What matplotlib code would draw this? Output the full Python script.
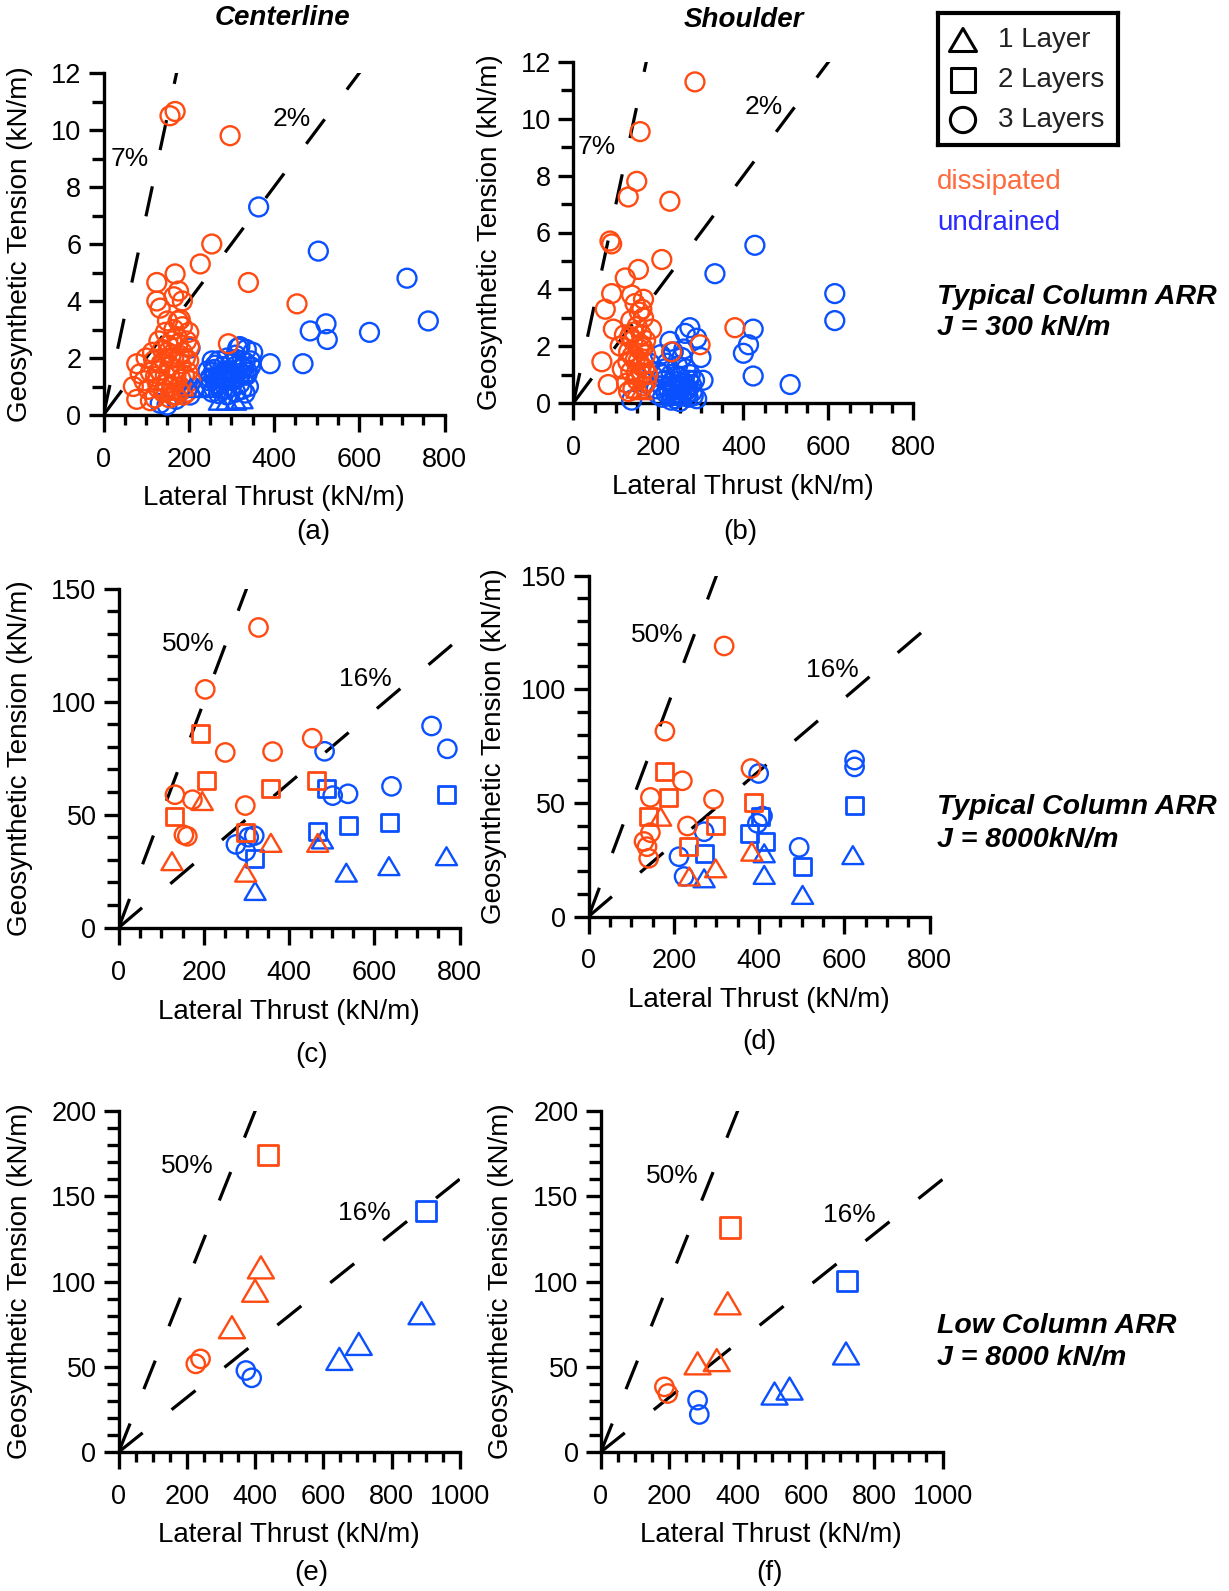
import matplotlib
matplotlib.use('Agg')
import matplotlib.pyplot as plt
from matplotlib.ticker import MultipleLocator
from matplotlib.path import Path

plt.rcParams['font.family'] = ['Liberation Sans', 'DejaVu Sans']

ORANGE = '#FF4A12'
BLUE = '#0A50FF'

# ---------------- data ----------------
# Panel (a): centerline, typical column ARR, J = 300 kN/m
a_diss_circ_x = [168, 156, 297, 254, 227, 340, 454, 125, 168, 125, 133, 176, 165, 180, 185, 293, 78, 70, 78, 86,
                 105, 110, 115, 120, 125, 130, 135, 140, 145, 145, 150, 155, 155, 160, 160, 165, 165, 170, 170, 175,
                 180, 180, 185, 185, 190, 195, 195, 200, 205, 200, 175, 150, 100, 95, 110,
                 118, 128, 138, 148, 158, 168, 178, 188, 198, 122, 142, 162, 182, 202, 132, 152, 172, 192]
a_diss_circ_y = [10.65, 10.5, 9.8, 6.0, 5.3, 4.65, 3.9, 4.65, 4.95, 4.0, 3.75, 4.35, 4.15, 3.35, 4.0, 2.5, 1.8, 1.0, 0.55, 1.45,
                 0.9, 1.5, 2.2, 0.6, 1.2, 2.6, 1.8, 0.8, 2.9, 1.4, 2.2, 0.6, 1.7, 2.6, 1.0, 3.0, 2.0, 1.4, 0.7, 2.5,
                 1.8, 1.0, 3.1, 2.2, 1.4, 2.6, 0.8, 1.9, 1.2, 2.9, 3.3, 3.3, 2.0, 1.2, 0.5,
                 1.9, 0.95, 2.3, 1.1, 2.0, 1.6, 2.1, 0.7, 1.5, 1.35, 1.9, 0.7, 1.25, 2.4, 1.55, 2.45, 2.75, 2.0]
a_diss_tri_x = [172, 160, 185]
a_diss_tri_y = [0.9, 0.85, 1.0]
a_und_circ_x = [364, 504, 712, 762, 485, 522, 525, 624, 468, 391, 203, 332, 336, 133, 149, 203, 170, 350, 320, 345,
                240, 250, 255, 260, 265, 270, 275, 280, 280, 285, 290, 295, 300, 300, 305, 310, 310, 315, 320, 325,
                330, 335, 340, 345, 290, 270, 255, 245, 315, 325,
                248, 258, 268, 278, 288, 298, 308, 318, 328, 338, 262, 282, 302, 322, 272, 292, 312, 332]
a_und_circ_y = [7.3, 5.75, 4.8, 3.3, 2.95, 3.2, 2.65, 2.9, 1.8, 1.8, 2.35, 0.77, 1.4, 0.41, 0.35, 0.7, 0.55, 2.2, 2.4, 1.9,
                1.0, 1.3, 0.8, 1.6, 1.1, 1.9, 1.4, 0.9, 1.7, 1.2, 2.0, 1.5, 1.0, 1.8, 1.3, 2.1, 0.8, 1.6, 1.1, 1.9,
                1.4, 2.3, 1.0, 1.7, 0.7, 0.75, 1.9, 1.55, 2.35, 0.9,
                1.2, 1.5, 1.3, 1.25, 1.55, 1.35, 1.7, 1.35, 1.65, 1.5, 1.75, 1.45, 1.2, 1.45, 1.05, 1.25, 1.95, 1.85]
a_und_tri_x = [205, 220, 235, 250, 272, 290, 310, 325]
a_und_tri_y = [0.95, 0.95, 0.95, 0.95, 0.5, 0.5, 0.5, 0.55]

# Panel (b): shoulder, typical column ARR, J = 300 kN/m
b_diss_circ_x = [286, 157, 149, 129, 227, 86, 90, 208, 153, 122, 90, 75, 137, 161, 165, 94, 380, 184, 298, 231, 67, 82, 161, 110,
                 115, 120, 125, 130, 135, 135, 140, 140, 145, 150, 150, 155, 160, 160, 165, 165, 170, 170, 175, 155, 145, 130,
                 128, 138, 148, 158, 168, 143, 153, 163, 133, 172]
b_diss_circ_y = [11.3, 9.55, 7.8, 7.25, 7.1, 5.7, 5.6, 5.05, 4.7, 4.4, 3.85, 3.3, 3.8, 3.3, 3.65, 2.6, 2.65, 2.6, 2.05, 1.8, 1.45, 0.65, 1.0, 2.0,
                 1.2, 2.4, 0.7, 1.8, 2.9, 1.1, 0.5, 2.2, 1.5, 2.7, 0.8, 1.9, 1.3, 2.4, 0.6, 3.0, 1.7, 2.2, 1.0, 3.2, 3.5, 0.4,
                 1.45, 1.65, 1.05, 2.05, 1.2, 2.5, 1.5, 1.95, 2.35, 0.75]
b_diss_tri_x = [150, 160, 145, 158]
b_diss_tri_y = [0.5, 0.45, 1.0, 1.6]
b_und_circ_x = [427, 333, 615, 615, 423, 412, 400, 423, 510, 274, 263, 137, 227, 290, 300, 305, 170, 180,
                195, 200, 205, 210, 215, 220, 225, 230, 235, 240, 240, 245, 250, 255, 255, 260, 265, 270, 270, 275,
                280, 285, 290, 230, 250, 215, 200, 260,
                208, 218, 228, 238, 248, 258, 268, 278, 212, 222, 232, 242, 252, 262, 272, 282, 235, 245, 255, 265]
b_und_circ_y = [5.55, 4.55, 3.85, 2.9, 2.6, 2.05, 1.75, 0.95, 0.65, 2.65, 2.45, 0.1, 2.17, 2.28, 1.6, 0.8, 0.7, 1.4,
                0.5, 1.1, 1.7, 0.2, 0.8, 1.4, 0.4, 1.0, 1.8, 0.15, 0.6, 1.3, 0.9, 0.3, 1.6, 0.7, 1.2, 0.2, 0.5, 1.0,
                0.4, 0.8, 0.15, 0.1, 0.05, 1.2, 0.3, 1.9,
                0.6, 0.35, 0.7, 0.45, 0.25, 0.55, 0.35, 0.65, 1.0, 0.55, 0.3, 0.95, 0.5, 0.4, 0.8, 0.25, 0.55, 0.75, 0.6, 0.45]
b_und_tri_x = [240, 255]
b_und_tri_y = [0.25, 0.25]

# Panel (c): centerline, typical column ARR, J = 8000 kN/m
c_diss_circ_x = [328, 203, 250, 361, 454, 132, 173, 297, 153, 161]
c_diss_circ_y = [132.8, 105.4, 77.5, 77.9, 83.8, 58.8, 56.6, 54.0, 41.0, 40.4]
c_diss_sq_x = [192, 206, 357, 463, 132, 298]
c_diss_sq_y = [86, 65, 61.7, 65, 49.2, 41.9]
c_diss_tri_x = [196, 125, 298, 357, 467]
c_diss_tri_y = [56, 29.4, 24.3, 37.5, 37.5]
c_und_circ_x = [483, 734, 771, 502, 538, 640, 275, 298, 318, 305]
c_und_circ_y = [78, 89.2, 79.1, 58.4, 59.2, 62.5, 36.8, 33.8, 40.7, 40.0]
c_und_sq_x = [487, 769, 538, 636, 467, 318]
c_und_sq_y = [61.7, 58.8, 45.1, 46.3, 42.6, 30.4]
c_und_tri_x = [478, 534, 634, 769, 320]
c_und_tri_y = [39, 24.3, 27.2, 31.6, 16.2]

# Panel (d): shoulder, typical column ARR, J = 8000 kN/m
d_diss_circ_x = [318, 179, 220, 145, 293, 381, 232, 145, 130, 137, 141]
d_diss_circ_y = [119, 81.5, 59.7, 52.4, 51.5, 65.1, 39.8, 36.9, 33, 30.7, 25.6]
d_diss_sq_x = [177, 188, 140, 298, 387, 234]
d_diss_sq_y = [63.6, 52.2, 44.2, 40.2, 50, 31]
d_diss_tri_x = [169, 383, 298, 236]
d_diss_tri_y = [43.9, 28.5, 21.2, 17.6]
d_und_circ_x = [624, 624, 399, 408, 396, 494, 271, 212, 224]
d_und_circ_y = [68.8, 65.8, 62.9, 44.2, 41, 30.4, 37.3, 26.3, 17.6]
d_und_sq_x = [624, 404, 377, 416, 271, 501]
d_und_sq_y = [49, 44.2, 36.6, 32.9, 27.8, 21.9]
d_und_tri_x = [412, 620, 412, 502, 271]
d_und_tri_y = [27.8, 27, 18.3, 9.5, 16.8]

# Panel (e): centerline, low column ARR, J = 8000 kN/m
e_diss_circ_x = [226, 240]
e_diss_circ_y = [51.7, 54.6]
e_diss_sq_x = [437]
e_diss_sq_y = [174]
e_diss_tri_x = [417, 400, 332]
e_diss_tri_y = [108.3, 94.6, 73.2]
e_und_circ_x = [373, 390]
e_und_circ_y = [47.8, 43.5]
e_und_sq_x = [900]
e_und_sq_y = [141.5]
e_und_tri_x = [888, 704, 647]
e_und_tri_y = [81.4, 63.4, 54.6]

# Panel (f): shoulder, low column ARR, J = 8000 kN/m
f_diss_circ_x = [186, 196]
f_diss_circ_y = [38.2, 34.3]
f_diss_sq_x = [378]
f_diss_sq_y = [131.7]
f_diss_tri_x = [371, 283, 339]
f_diss_tri_y = [87.2, 52, 53.9]
f_und_circ_x = [283, 288]
f_und_circ_y = [30.4, 22]
f_und_sq_x = [720]
f_und_sq_y = [100.4]
f_und_tri_x = [717, 508, 552]
f_und_tri_y = [57.8, 34.3, 37.2]

ratio_top = [0.07, 0.07, 0.5, 0.5, 0.5, 0.5]
ratio_low = [0.02, 0.02, 0.16, 0.16, 0.16, 0.16]
ratio_top_lbl = ['7%', '7%', '50%', '50%', '50%', '50%']
ratio_low_lbl = ['2%', '2%', '16%', '16%', '16%', '16%']
ratio_top_pos = [(61, 9.0), (55, 9.0), (163, 125.4), (161, 124), (201, 167.8), (208, 161.7)]
ratio_low_pos = [(442, 10.4), (447, 10.4), (579, 109.8), (573, 108.6), (719, 139.9), (728, 138.8)]
panel_letters = ['(a)', '(b)', '(c)', '(d)', '(e)', '(f)']

# ---------------- figure ----------------
W, H = 1229, 1591
fig = plt.figure(figsize=(W / 100, H / 100), dpi=100)

TRI = Path([(-1, -0.85), (1, -0.85), (0, 0.85), (-1, -0.85)],
           [Path.MOVETO, Path.LINETO, Path.LINETO, Path.CLOSEPOLY])

# pixel boxes: x at 0, x at max, y at 0, y at max
boxes = [
    (103.5, 444.5, 415, 73),
    (573.4, 913.4, 403, 62),
    (118.7, 459.7, 927.6, 588.6),
    (588.6, 929.6, 916.5, 575.5),
    (118.7, 459.7, 1452, 1111),
    (600.8, 942.8, 1452, 1111),
]
lims = [(800, 12, 200, 50, 2, 1), (800, 12, 200, 50, 2, 1),
        (800, 150, 200, 50, 50, 10), (800, 150, 200, 50, 50, 10),
        (1000, 200, 200, 50, 50, 10), (1000, 200, 200, 50, 50, 10)]
xlabel_pos = [(274, 498), (743, 487), (289, 1012), (759, 1000), (289, 1535), (771, 1535)]
letter_pos = [(313, 532), (740, 532), (312, 1055), (759, 1042), (311, 1573), (769, 1573)]
ylabel_x = [20, 490, 20, 494, 20, 501]

panel_data = [
    dict(circ=[(a_und_circ_x, a_und_circ_y, BLUE), (a_diss_circ_x, a_diss_circ_y, ORANGE)],
         sq=[], tri=[(a_und_tri_x, a_und_tri_y, BLUE), (a_diss_tri_x, a_diss_tri_y, ORANGE)]),
    dict(circ=[(b_und_circ_x, b_und_circ_y, BLUE), (b_diss_circ_x, b_diss_circ_y, ORANGE)],
         sq=[], tri=[(b_und_tri_x, b_und_tri_y, BLUE), (b_diss_tri_x, b_diss_tri_y, ORANGE)]),
    dict(circ=[(c_und_circ_x, c_und_circ_y, BLUE), (c_diss_circ_x, c_diss_circ_y, ORANGE)],
         sq=[(c_und_sq_x, c_und_sq_y, BLUE), (c_diss_sq_x, c_diss_sq_y, ORANGE)],
         tri=[(c_und_tri_x, c_und_tri_y, BLUE), (c_diss_tri_x, c_diss_tri_y, ORANGE)]),
    dict(circ=[(d_und_circ_x, d_und_circ_y, BLUE), (d_diss_circ_x, d_diss_circ_y, ORANGE)],
         sq=[(d_und_sq_x, d_und_sq_y, BLUE), (d_diss_sq_x, d_diss_sq_y, ORANGE)],
         tri=[(d_und_tri_x, d_und_tri_y, BLUE), (d_diss_tri_x, d_diss_tri_y, ORANGE)]),
    dict(circ=[(e_und_circ_x, e_und_circ_y, BLUE), (e_diss_circ_x, e_diss_circ_y, ORANGE)],
         sq=[(e_und_sq_x, e_und_sq_y, BLUE), (e_diss_sq_x, e_diss_sq_y, ORANGE)],
         tri=[(e_und_tri_x, e_und_tri_y, BLUE), (e_diss_tri_x, e_diss_tri_y, ORANGE)]),
    dict(circ=[(f_und_circ_x, f_und_circ_y, BLUE), (f_diss_circ_x, f_diss_circ_y, ORANGE)],
         sq=[(f_und_sq_x, f_und_sq_y, BLUE), (f_diss_sq_x, f_diss_sq_y, ORANGE)],
         tri=[(f_und_tri_x, f_und_tri_y, BLUE), (f_diss_tri_x, f_diss_tri_y, ORANGE)]),
]

sizes = [dict(circ=185, sq=150, tri=230)] * 2 + [dict(circ=175, sq=150, tri=230)] * 2 + \
        [dict(circ=175, sq=210, tri=350)] * 2

LW_AX = 2.4
for i in range(6):
    x0, x1, y0, y1 = boxes[i]
    ax = fig.add_axes([x0 / W, 1 - y0 / H, (x1 - x0) / W, (y0 - y1) / H])
    xmax, ymax, xmaj, xmin_, ymaj, ymin_ = lims[i]
    ax.set_xlim(0, xmax)
    ax.set_ylim(0, ymax)
    for s in ['top', 'right']:
        ax.spines[s].set_visible(False)
    for s in ['left', 'bottom']:
        ax.spines[s].set_linewidth(LW_AX)
    ax.xaxis.set_major_locator(MultipleLocator(xmaj))
    ax.xaxis.set_minor_locator(MultipleLocator(xmin_))
    ax.yaxis.set_major_locator(MultipleLocator(ymaj))
    ax.yaxis.set_minor_locator(MultipleLocator(ymin_))
    ax.tick_params(axis='x', which='major', length=12, width=LW_AX, labelsize=19.5, pad=11)
    ax.tick_params(axis='x', which='minor', length=7, width=LW_AX)
    ax.tick_params(axis='y', which='major', length=11, width=LW_AX, labelsize=19.5, pad=5)
    ax.tick_params(axis='y', which='minor', length=9, width=LW_AX)

    # ratio lines
    for sl in (ratio_top[i], ratio_low[i]):
        ax.plot([0, xmax], [0, sl * xmax], color='black', lw=2.3,
                linestyle=(0, (9.6, 11.6)), dash_capstyle='butt', zorder=1)
    ax.text(*ratio_top_pos[i], ratio_top_lbl[i], fontsize=19, ha='center', va='center')
    ax.text(*ratio_low_pos[i], ratio_low_lbl[i], fontsize=19, ha='center', va='center')

    pdict = panel_data[i]
    for xs, ys, col in pdict['circ']:
        ax.scatter(xs, ys, s=sizes[i]['circ'], marker='o', facecolors='none', edgecolors=col,
                   linewidths=1.7, clip_on=False, zorder=3)
    for xs, ys, col in pdict['sq']:
        ax.scatter(xs, ys, s=sizes[i]['sq'], marker='s', facecolors='none', edgecolors=col,
                   linewidths=2.0, clip_on=False, zorder=3)
    for xs, ys, col in pdict['tri']:
        ax.scatter(xs, ys, s=sizes[i]['tri'], marker=TRI, facecolors='none', edgecolors=col,
                   linewidths=1.7, clip_on=False, zorder=3)

    fig.text(xlabel_pos[i][0] / W, 1 - xlabel_pos[i][1] / H, 'Lateral Thrust (kN/m)',
             fontsize=20, ha='center', va='center')
    fig.text(letter_pos[i][0] / W, 1 - letter_pos[i][1] / H, panel_letters[i],
             fontsize=20, ha='center', va='center')
    fig.text(ylabel_x[i] / W, 1 - ((y0 + y1) / 2) / H, 'Geosynthetic Tension (kN/m)',
             fontsize=20, ha='center', va='center', rotation=90)

# titles
fig.text(282 / W, 1 - 18 / H, 'Centerline', fontsize=20, fontweight='bold', fontstyle='italic',
         ha='center', va='center')
fig.text(744 / W, 1 - 20 / H, 'Shoulder', fontsize=20, fontweight='bold', fontstyle='italic',
         ha='center', va='center')

# legend box
lax = fig.add_axes([938 / W, 1 - 145 / H, (1118 - 938) / W, (145 - 13) / H])
lax.set_xlim(938, 1118)
lax.set_ylim(145, 13)
lax.set_xticks([])
lax.set_yticks([])
for s in lax.spines.values():
    s.set_linewidth(3)
legend_labels = ['1 Layer', '2 Layers', '3 Layers']
legend_markers = [TRI, 's', 'o']
legend_sizes = [380, 300, 330]
legend_y = [40, 80, 120]
for lbl, mk, sz, ly in zip(legend_labels, legend_markers, legend_sizes, legend_y):
    lax.scatter([963], [ly], s=sz, marker=mk, facecolors='none', edgecolors='black', linewidths=2.2)
    lax.text(998, ly, lbl, fontsize=20, ha='left', va='center', color='#222222')

fig.text(937 / W, 1 - 182 / H, 'dissipated', fontsize=20, color='#FF6A3D', ha='left', va='center')
fig.text(937 / W, 1 - 223 / H, 'undrained', fontsize=20, color='#2B2BFF', ha='left', va='center')

notes = [('Typical Column ARR', 297), ('J = 300 kN/m', 328),
         ('Typical Column ARR', 807), ('J = 8000kN/m', 840),
         ('Low Column ARR', 1326), ('J = 8000 kN/m', 1358)]
for txt, yy in notes:
    fig.text(937 / W, 1 - yy / H, txt, fontsize=20.5, fontweight='bold', fontstyle='italic',
             ha='left', va='center')

fig.savefig('out.png', dpi=100)
